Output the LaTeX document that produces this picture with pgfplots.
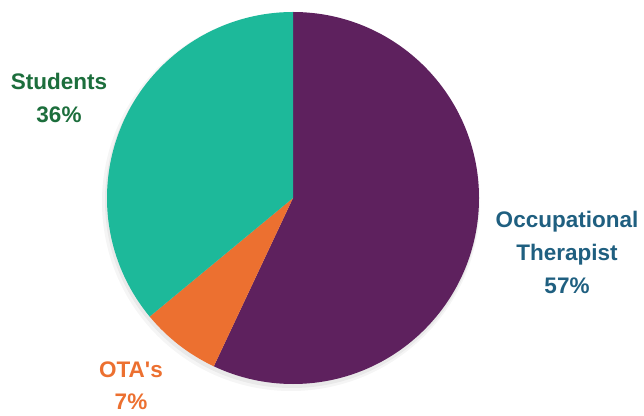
\documentclass[border=0pt]{standalone}
\usepackage{pgfplots}
\pgfplotsset{compat=1.18}
\usepackage{pgfplotstable}
\usepackage{fontspec}
\setmainfont{Liberation Sans}[Ligatures=NoCommon]
\newfontfamily\labfont{Liberation Sans}[Mapping=]
\definecolor{otpurple}{HTML}{5E215E}
\definecolor{otaorange}{HTML}{EC7030}
\definecolor{stuteal}{HTML}{1DB99A}
\definecolor{labgreen}{HTML}{1C6E3C}
\definecolor{labblue}{HTML}{1F5F80}
\pgfplotstableread{
label value
Occupational 57
OTA 7
Students 36
}\piedata
\begin{document}
\begin{tikzpicture}
\begin{axis}[
  x=1pt, y=1pt,
  xmin=0, xmax=644, ymin=0, ymax=415,
  hide axis, clip=false,
  anchor=origin, at={(0,0)},
]
\pgfplotstablegetelem{0}{value}\of\piedata \edef\va{\pgfplotsretval}
\pgfplotstablegetelem{1}{value}\of\piedata \edef\vb{\pgfplotsretval}
\pgfplotstablegetelem{2}{value}\of\piedata \edef\vc{\pgfplotsretval}
\pgfmathsetmacro{\aA}{90}
\pgfmathsetmacro{\aB}{90-3.6*\va}
\pgfmathsetmacro{\aC}{\aB-3.6*\vb}
\pgfmathsetmacro{\aD}{\aC-3.6*\vc}
% soft shadow
\fill[black, opacity=0.04] (axis cs:291,213) circle[radius=189pt];
\fill[black, opacity=0.05] (axis cs:292,214) circle[radius=187pt];
\fill[otpurple] (axis cs:293,217) -- ++(\aA:186pt) arc[start angle=\aA, end angle=\aB, radius=186pt] -- cycle;
\fill[otaorange] (axis cs:293,217) -- ++(\aB:186pt) arc[start angle=\aB, end angle=\aC, radius=186pt] -- cycle;
\fill[stuteal] (axis cs:293,217) -- ++(\aC:186pt) arc[start angle=\aC, end angle=\aD, radius=186pt] -- cycle;
\node[text=labgreen, font=\bfseries\fontsize{22.5}{33}\selectfont, align=center] at (axis cs:59,317) {Students\\36\%};
\node[text=labblue, font=\bfseries\fontsize{22.5}{33}\selectfont, align=center] at (axis cs:567,163) {Occupational\\Therapist\\57\%};
\node[text=otaorange, font=\labfont\bfseries\fontsize{22.5}{32}\selectfont, align=center, inner sep=1pt] at (axis cs:131,29) {OTA\textquotesingle s\\7\%};
\end{axis}
\pgfresetboundingbox
\path[use as bounding box] (0,0) rectangle (644pt,415pt);
\end{tikzpicture}
\end{document}
